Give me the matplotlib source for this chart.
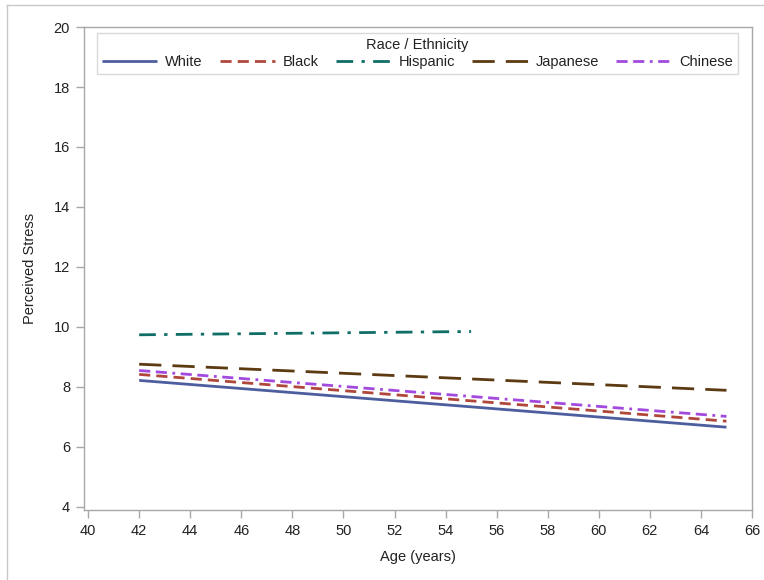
import matplotlib
matplotlib.use("Agg")
import matplotlib.pyplot as plt
from matplotlib.lines import Line2D

plt.rcParams['font.family'] = ['Liberation Sans', 'DejaVu Sans']

# Fitted perceived-stress lines (start / end age and value) per group
groups = ['White', 'Black', 'Hispanic', 'Japanese', 'Chinese']
age_start = [42, 42, 42, 42, 42]
age_end = [65, 65, 55, 65, 65]
stress_start = [8.22, 8.42, 9.74, 8.76, 8.55]
stress_end = [6.66, 6.86, 9.85, 7.89, 7.02]

colors = ['#4d5e9e', '#b0473b', '#0f6e66', '#5c3a12', '#a24ade']
dashes = [
    None,
    (4, 2.2),
    (6, 3, 1.2, 3),
    (8, 4),
    (4, 2, 4, 2, 1, 2),
]

fig = plt.figure(figsize=(7.64, 5.8), dpi=100)
ax = fig.add_axes([84 / 764, 1 - 510 / 580, 668 / 764, 483 / 580])

for i, name in enumerate(groups):
    line, = ax.plot([age_start[i], age_end[i]], [stress_start[i], stress_end[i]],
                    color=colors[i], lw=2, label=name, solid_capstyle='butt',
                    dash_capstyle='butt')
    if dashes[i] is not None:
        line.set_dashes(dashes[i])

ax.set_xlim(39.84, 66.0)
ax.set_ylim(3.9, 20.0)
ax.set_xticks(range(40, 67, 2))
ax.set_yticks(range(4, 21, 2))

grey = '#a8a8a8'
for s in ax.spines.values():
    s.set_color(grey)
    s.set_linewidth(1)
ax.tick_params(direction='out', length=6, width=1, color=grey,
               labelsize=10.5, labelcolor='#222222', pad=4)

ax.set_xlabel('Age (years)', fontsize=10.5, color='#222222', labelpad=9)
ax.set_ylabel('Perceived Stress', fontsize=10.5, color='#222222', labelpad=12)

leg = ax.legend(loc='upper left', bbox_to_anchor=(0.019, 0.988), ncol=5,
                title='Race / Ethnicity', fontsize=10.5, title_fontsize=10.5,
                frameon=True, fancybox=False, handlelength=3.8,
                columnspacing=1.15, handletextpad=0.55, borderpad=0.35,
                labelspacing=0.2, borderaxespad=0)
leg.get_frame().set_edgecolor('#d0d0d0')
leg.get_frame().set_linewidth(1)
leg.get_title().set_color('#222222')
for t in leg.get_texts():
    t.set_color('#222222')

# border along the top and left of the figure
fig.add_artist(Line2D([7 / 764, 1], [1 - 5 / 580, 1 - 5 / 580],
                      color='#c8c8c8', lw=1, transform=fig.transFigure))
fig.add_artist(Line2D([7 / 764, 7 / 764], [0, 1 - 5 / 580],
                      color='#c8c8c8', lw=1, transform=fig.transFigure))

fig.savefig('out.png', dpi=100)
